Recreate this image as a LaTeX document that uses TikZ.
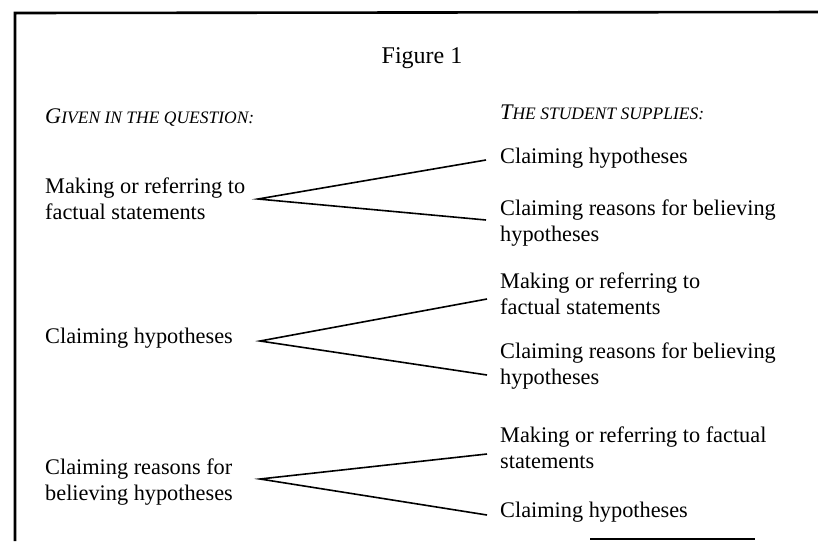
\documentclass[tikz,border=0pt]{standalone}
\usepackage{fontspec}
\setmainfont{Liberation Serif}
\usetikzlibrary{positioning}
\newcommand{\twolines}[2]{\begin{tabular}[t]{@{}l@{}}#1\\#2\end{tabular}}
\newcommand{\scfont}{\fontsize{17.5}{20}\selectfont}

\begin{document}
\begin{tikzpicture}[
  x=1pt, y=-1pt,
  item/.style={anchor=base west, inner sep=0pt, font=\fontsize{22.3}{26}\selectfont},
  head/.style={anchor=base west, inner sep=0pt, font=\fontsize{22.3}{26}\selectfont\itshape},
  fork/.style={line width=1.6pt},
  frame/.style={line width=2.6pt}
]
  \useasboundingbox (0,0) rectangle (818,541);

  % Frame
  \draw[frame] (818,12) -- (15,13) -- (15,541);
  \draw[frame] (590,539) -- (755,539);

  % Title and column heads
  \node[anchor=base, inner sep=0pt, font=\fontsize{24}{28}\selectfont] (title) at (422,63) {Figure 1};
  \node[head] (given) at (45,123) {G\scfont IVEN IN THE QUESTION:};
  \node[head] (supplies) at (500,119) {T\scfont HE STUDENT SUPPLIES:};

  % Making or referring to factual statements
  \node[item] (given1) at (45,193) {\twolines{Making or referring to}{factual statements}};
  \node[item] (gets1a) at (500,163) {Claiming hypotheses};
  \node[item] (gets1b) at (500,215) {\twolines{Claiming reasons for believing}{hypotheses}};
  \coordinate (fork1) at (258,199);
  \coordinate (end1a) at (486,160);
  \coordinate (end1b) at (486,220);
  \draw[fork] (end1a) -- (fork1) -- (end1b);

  % Claiming hypotheses
  \node[item] (given2) at (45,343) {Claiming hypotheses};
  \node[item] (gets2a) at (500,288) {\twolines{Making or referring to}{factual statements}};
  \node[item] (gets2b) at (500,358) {\twolines{Claiming reasons for believing}{hypotheses}};
  \coordinate (fork2) at (260,341);
  \coordinate (end2a) at (487,299);
  \coordinate (end2b) at (487,375);
  \draw[fork] (end2a) -- (fork2) -- (end2b);

  % Claiming reasons for believing hypotheses
  \node[item] (given3) at (45,474) {\twolines{Claiming reasons for}{believing hypotheses}};
  \node[item] (gets3a) at (500,442) {\twolines{Making or referring to factual}{statements}};
  \node[item] (gets3b) at (500,517) {Claiming hypotheses};
  \coordinate (fork3) at (260,479);
  \coordinate (end3a) at (487,454);
  \coordinate (end3b) at (487,515);
  \draw[fork] (end3a) -- (fork3) -- (end3b);
\end{tikzpicture}
\end{document}
